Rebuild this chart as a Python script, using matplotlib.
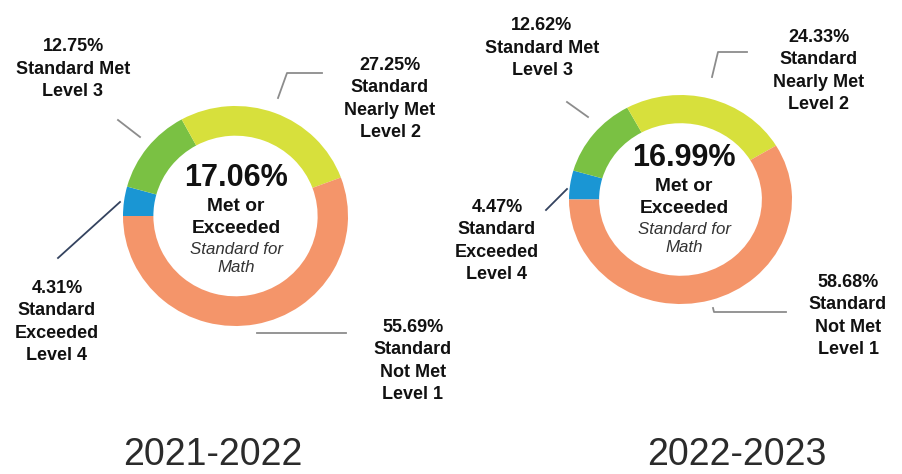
import matplotlib.pyplot as plt

# values per school year, order: Level 4, Level 3, Level 2, Level 1
years = ["2021-2022", "2022-2023"]
met_or_exceeded = ["17.06%", "16.99%"]
level_names = ["Standard\nExceeded\nLevel 4", "Standard Met\nLevel 3",
               "Standard\nNearly Met\nLevel 2", "Standard\nNot Met\nLevel 1"]
values_2122 = [4.31, 12.75, 27.25, 55.69]
values_2223 = [4.47, 12.62, 24.33, 58.68]
colors = ["#1a96d4", "#7ac143", "#d7e03c", "#f4956a"]

W, H = 902, 474
fig = plt.figure(figsize=(W / 100, H / 100), dpi=100)
plt.rcParams['font.family'] = ['Liberation Sans', 'DejaVu Sans']


def px_axes(x0, y0, x1, y1):
    return fig.add_axes([x0 / W, 1 - y1 / H, (x1 - x0) / W, (y1 - y0) / H])


# donut boxes in pixels (left, top, right, bottom)
boxes = [(123, 106, 348, 326), (569, 95, 792, 304)]
all_values = [values_2122, values_2223]

for box, vals in zip(boxes, all_values):
    a = px_axes(*box)
    a.pie(vals, colors=colors, startangle=180, counterclock=False,
          wedgeprops=dict(width=0.27, linewidth=0))
    a.set_aspect('auto')
    a.set_xlim(-1, 1)
    a.set_ylim(-1, 1)
    a.axis('off')

ax = fig.add_axes([0, 0, 1, 1], zorder=-1)
ax.set_xlim(0, W)
ax.set_ylim(H, 0)
ax.axis('off')

# centre texts
centres = [(236, 178), (684, 158)]
for (cx, cy), big in zip(centres, met_or_exceeded):
    ax.text(cx, cy, big, ha='center', va='center', fontsize=22,
            fontweight='bold', color='#111111')
    ax.text(cx, cy + 39.5, "Met or\nExceeded", ha='center', va='center',
            fontsize=13.8, fontweight='bold', color='#111111', linespacing=1.36)
    ax.text(cx, cy + 80.5, "Standard for\nMath", ha='center', va='center',
            fontsize=12.2, style='italic', color='#333333', linespacing=1.28)

# labels: (x, centre y of text block) per level, per year
label_pos = [
    [(57, 322), (73, 69), (390, 99), (413, 361)],
    [(497, 241), (542, 48), (819, 71), (848, 316)],
]
for pos, vals in zip(label_pos, all_values):
    for (lx, ly), v, name in zip(pos, vals, level_names):
        ax.text(lx, ly, f"{v:.2f}%\n{name}", ha='center', va='center',
                fontsize=13, fontweight='bold', color='#111111',
                linespacing=1.42)

# leader lines
grey = '#8c8c8c'
navy = '#34435f'
ax.plot([118, 140], [120, 137], color=grey, lw=1.3)
ax.plot([278, 287, 322], [98, 73, 73], color=grey, lw=1.3)
ax.plot([120, 58], [202, 258], color=navy, lw=1.3)
ax.plot([257, 346], [333, 333], color=grey, lw=1.3)

ax.plot([567, 588], [102, 117], color=grey, lw=1.3)
ax.plot([712, 718, 747], [77, 52, 52], color=grey, lw=1.3)
ax.plot([567, 546], [189, 210], color=navy, lw=1.3)
ax.plot([713, 714, 786], [308, 312, 312], color=grey, lw=1.3)

# year titles
for x, yr in zip([213, 737], years):
    ax.text(x, 455, yr, ha='center', va='center', fontsize=27,
            color='#2b2b2b')

fig.savefig("out.png", dpi=100)
